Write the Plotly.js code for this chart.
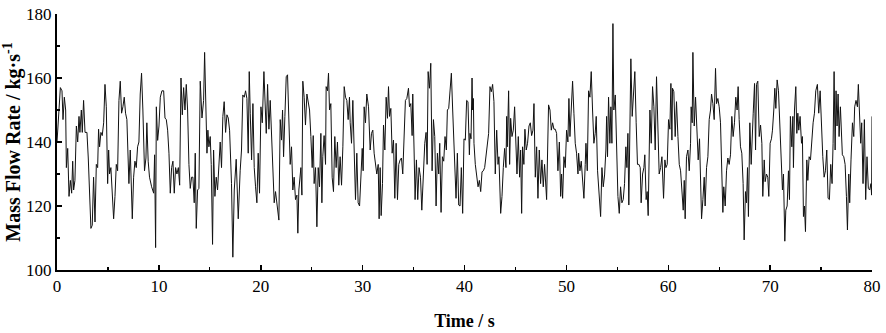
<!DOCTYPE html>
<html>
<head>
<meta charset="utf-8">
<script src="https://cdn.plot.ly/plotly-3.0.1.min.js"></script>
<style>html,body{margin:0;padding:0;background:#fff;}#chart{width:886px;height:333px;}</style>
</head>
<body>
<div id="chart"></div>
<script>
// Time (s)
const time = [
0.00,0.33,0.49,0.59,0.72,0.85,0.92,1.05,1.18,1.31,1.44,1.54,1.63,1.76,1.90,2.03,2.16,2.25,2.39,2.48,2.61,2.75,2.94,3.07,3.33,3.46,3.59,3.73,3.86,3.99,4.08,4.18,4.31,4.44,4.58,4.71,4.84,4.97,5.07,5.16,5.29,5.56,5.69,5.82,5.95,6.08,6.21,6.34,6.47,6.60,6.73,6.86,7.06,7.19,7.39,7.52,7.65,7.78,7.91,8.04,8.17,8.30,8.43,8.59,8.73,8.82,8.95,9.08,
9.29,9.49,9.58,9.68,9.75,9.88,10.01,10.14,10.30,10.47,10.60,10.73,10.86,10.99,11.12,11.25,11.38,11.51,11.64,11.77,11.91,12.04,12.17,12.30,12.43,12.56,12.69,12.82,12.95,13.08,13.21,13.34,13.47,13.57,13.67,13.80,13.93,14.06,14.23,14.39,14.49,14.62,14.72,14.81,14.91,15.04,15.14,15.27,15.37,15.50,15.63,15.76,15.89,16.02,16.15,16.28,16.41,16.55,16.68,16.81,16.94,17.07,17.13,17.26,17.40,17.59,17.79,17.98,18.11,18.24,18.38,18.51,18.64,18.77,18.87,
18.97,19.10,19.23,19.36,19.49,19.62,19.75,19.88,20.02,20.15,20.31,20.44,20.54,20.67,20.80,20.93,21.06,21.19,21.32,21.45,21.58,21.78,21.91,22.04,22.14,22.24,22.37,22.50,22.63,22.76,22.89,23.02,23.15,23.28,23.41,23.55,23.64,23.74,23.94,24.04,24.13,24.26,24.39,24.53,24.66,24.79,24.92,25.05,25.15,25.24,25.38,25.51,25.64,25.77,25.90,26.00,26.09,26.22,26.36,26.42,26.55,26.65,26.75,26.88,27.01,27.14,27.27,27.40,27.53,27.66,27.79,27.93,28.06,28.19,28.32,28.45,28.58,28.71,
28.78,28.91,29.04,29.17,29.30,29.43,29.56,29.70,29.83,29.96,30.05,30.15,30.28,30.41,30.58,30.74,30.87,31.00,31.13,31.26,31.39,31.53,31.62,31.72,31.82,31.95,32.05,32.18,32.31,32.44,32.54,32.64,32.77,32.90,33.03,33.16,33.29,33.42,33.55,33.68,33.81,33.94,34.07,34.20,34.34,34.50,34.60,34.73,34.86,34.92,35.05,35.15,35.28,35.41,35.54,35.68,35.81,35.94,36.10,36.23,36.33,36.43,36.56,36.69,36.82,36.95,37.08,37.21,37.34,37.47,37.57,37.70,37.83,37.96,38.09,38.22,38.32,38.45,
38.58,38.71,38.84,39.04,39.17,39.30,39.43,39.56,39.69,39.82,39.95,40.08,40.21,40.34,40.48,40.54,40.64,40.74,40.80,40.87,40.93,41.06,41.19,41.33,41.46,41.59,41.72,41.85,41.98,42.11,42.24,42.37,42.50,42.63,42.76,42.89,43.02,43.16,43.29,43.38,43.55,43.68,43.81,43.94,44.07,44.14,44.20,44.27,44.33,44.43,44.53,44.66,44.79,44.92,45.05,45.15,45.28,45.41,45.51,45.61,45.70,45.83,45.93,46.06,46.19,46.33,46.46,46.59,46.72,46.82,46.95,47.08,47.21,47.34,47.47,47.60,47.73,47.86,48.06,48.25,
48.39,48.52,48.65,48.78,48.91,49.04,49.17,49.31,49.44,49.53,49.63,49.76,49.89,50.02,50.15,50.25,50.35,50.48,50.61,50.74,50.87,51.00,51.14,51.20,51.33,51.46,51.59,51.72,51.85,51.92,52.05,52.18,52.31,52.44,52.57,52.70,52.83,52.93,53.06,53.19,53.36,53.49,53.62,53.75,53.88,53.95,54.04,54.14,54.27,54.37,54.47,54.57,54.66,54.80,54.93,55.06,55.19,55.32,55.45,55.58,55.71,55.84,55.94,56.04,56.13,56.23,56.33,56.46,56.59,56.72,56.85,56.98,57.12,57.25,57.34,57.48,57.61,57.70,57.83,57.93,58.03,58.13,
58.20,58.33,58.46,58.59,58.72,58.85,58.98,59.11,59.25,59.38,59.54,59.67,59.77,59.90,60.03,60.16,60.26,60.36,60.42,60.55,60.68,60.81,60.95,61.08,61.21,61.34,61.47,61.57,61.66,61.79,61.93,62.06,62.19,62.25,62.35,62.42,62.55,62.68,62.81,62.94,63.07,63.20,63.27,63.40,63.53,63.62,63.76,63.89,64.02,64.15,64.25,64.38,64.51,64.64,64.74,64.87,65.00,65.13,65.26,65.36,65.45,65.59,65.72,65.85,65.98,66.11,66.24,66.37,66.50,66.63,66.76,66.86,66.96,67.09,67.22,67.35,67.45,67.58,67.68,67.78,67.87,
68.01,68.14,68.21,68.34,68.47,68.57,68.66,68.79,68.93,69.06,69.19,69.28,69.42,69.51,69.64,69.77,69.87,70.00,70.13,70.23,70.36,70.46,70.56,70.69,70.82,70.95,71.08,71.21,71.31,71.44,71.54,71.67,71.80,71.90,71.99,72.13,72.23,72.29,72.39,72.52,72.62,72.72,72.81,72.94,73.08,73.17,73.27,73.37,73.47,73.60,73.70,73.83,73.96,74.09,74.22,74.35,74.48,74.64,74.77,74.91,75.04,75.17,75.30,75.43,75.56,75.69,75.82,75.95,76.08,76.18,76.28,76.38,76.47,76.57,76.67,76.77,76.90,77.00,77.09,77.23,77.36,77.49,77.59,77.72,77.81,77.94,78.08,78.21,78.30,78.43,78.57,78.66,78.79,78.89,78.99,79.12,79.25,79.38,79.51,79.64,79.77,79.90,79.96,80.00
];
// Mass flow rate (kg/s)
const massFlow = [
140,157,156,147,154,150,132,138,123,128,124,134,125,128,145,140,148,143,150,143,153,143,143,135,113,114,129,115,133,132,144,138.5,143,142,146,158,151,127,137.5,130,132,116,123,133,131,153,159,149,151,154,149,147,127,137.5,116,129,134,132,138.5,140,155,161.5,150,131,135,146,134,129,
126,124,136,107,151,140.5,145,154,156,156,147.5,147,143.7,136.5,124,132,134,124,132,130,132,126.5,160,148.5,157,150,158,150,133,125.5,129,129,121,136.5,113,125,125.5,159,147.5,153,168,144,136.5,143.7,138.5,141.7,133,108,137.5,123,129,125,133,140,132,148,152.6,143,148.5,147.5,143.7,132,127,104,125,134.6,116,131,137.5,154.7,154,156,153.6,136.5,162,
149,134.4,152,132,126,121,136.5,124,151,146,162,152,142.7,158,144,153,141.7,131,121,124.5,120,115.6,147,140.6,150,135.4,148,160.4,161,141.7,133,138.5,125,129,122,123.4,111.5,125,132,123.4,159,154,145.3,155,153,150,141.7,132,142,127,132,113.5,132,126,142.7,121,135.4,142,133,157.3,156,161.5,150,152,129,124.5,141.7,132,140,126.5,135.4,126.5,138.5,157.3,154,153,147,154,
146,139.6,153,137,122,136.5,121,120,131,138,131,151,146,155,151,137.5,142.7,143.7,136.5,133,130,133,116,132,117,127,145.3,137.5,154,147.4,157.3,148,150.5,136.5,140.6,122.4,139.6,122,133,134.4,135,130,142.7,153,153.6,156.8,151,152,142,155,137.5,122,134.4,122,132,129,118.7,127,139.6,143,133,162,156.8,164.6,131,147,141.7,120,136.5,130,139.6,118,135.4,134,141.7,137.5,150,150.5,
156.8,161.5,150,133,122.4,136.5,120.3,120,132,117.7,141,140.6,153,152.6,136,142.7,141,160,150,153.6,139.6,133,129.7,126,128,124.5,130.7,131,132,135.4,139.6,142.7,157.3,155.7,158,152.6,130,143.7,133,135.4,117.7,123,132,138,132,148,138.5,145,156,133,147.4,141.7,143.7,151,137.5,130,141.7,129,137.5,117.7,138.5,133,144,137.5,139.6,145,146,142,143.7,152,129,138.5,122.4,137.5,127,134.4,126,133,122,151.6,
150,143.7,146,144,144,142.7,131,140,123,130,122.4,135.4,132,143.7,140,153.6,141.7,149.5,159,149,139.6,136.5,130,136.5,131,134,126,122.4,133,139.6,131,156,154,162,150,139.6,142.7,148,131,125,116.7,132,126,129.7,137.5,148,135.4,154,139.6,151,139.6,177,150,154.7,141.7,123,117.7,126,121,122,127,138.5,132,142.7,120.3,148,166,148,154,162,146,133,133,132,121,130,132,136,122,124.5,117,136.5,
150,139.6,157.3,151,137.5,160.4,147,130,132,135.4,122.4,134.4,132,133,147,144,158.3,140.6,156.8,155.7,141.7,152.6,141.7,133,131,125,118.7,128,116,135.4,137.5,131,139.6,151,146,168,145,154,143.7,134.4,141,124,116,122,129,120,132,135.4,147,150,155,152,147,163,152,153.6,151,146,131,118,126,120,131,135,133,136,148,141.7,146,154,150,157.3,147,138.5,136.5,127,109.4,124.5,121,132,116.7,
146,133,141.7,149,158.3,137.5,158,159,141.7,145.3,139.6,123,134.4,127.6,130,129,123,139.6,141,143.7,150,156.8,150.5,159.4,156,147,138.5,125,130,109,118.7,120,131,122,148,138.5,148,132,150,157.3,142.7,149,143.7,148,139.6,141.7,116.7,120,112,134.4,128,135.4,134.4,141.7,146,149,156,158,149,156,141.7,135.4,129,131,137.5,122.4,122,133,127,139.6,162,137.5,156,145,155,141.7,151,145,136,135.4,133,123,112.5,130,121,134.4,146,141.7,151,153,151,158,148,139.6,146,127,147,122,135.4,125.5,125,127,123.4,148
];
const xTicks = [0,10,20,30,40,50,60,70,80];
const yTicks = [100,120,140,160,180];

const serif = '"Liberation Serif","Times New Roman",serif';
const trace = {
  x: time, y: massFlow, type: 'scatter', mode: 'lines',
  line: {color: '#111111', width: 1},
  hoverinfo: 'skip', showlegend: false
};
const layout = {
  width: 886, height: 333,
  margin: {l: 57, r: 14, t: 14, b: 63},
  paper_bgcolor: '#ffffff', plot_bgcolor: '#ffffff',
  font: {family: serif, color: '#000000', size: 17},
  xaxis: {
    range: [0, 80], tickvals: xTicks, ticktext: xTicks.map(String),
    showgrid: false, zeroline: false, showline: true, linecolor: '#000', linewidth: 2,
    ticks: 'inside', ticklen: 5, tickwidth: 1.5, tickcolor: '#000',
    minor: {dtick: 5, tick0: 0, ticks: 'inside', ticklen: 3, tickwidth: 1.2, tickcolor: '#000', showgrid: false},
    tickfont: {family: serif, size: 17, color: '#000'},
    title: {text: '<b>Time / s</b>', font: {family: serif, size: 18, color: '#000'}, standoff: 19}
  },
  yaxis: {
    range: [100, 180], tickvals: yTicks, ticktext: yTicks.map(String),
    showgrid: false, zeroline: false, showline: true, linecolor: '#000', linewidth: 2,
    ticks: 'inside', ticklen: 5, tickwidth: 1.5, tickcolor: '#000',
    minor: {dtick: 10, tick0: 100, ticks: 'inside', ticklen: 3, tickwidth: 1.2, tickcolor: '#000', showgrid: false},
    tickfont: {family: serif, size: 17, color: '#000'},
    title: {text: '<b>Mass Flow Rate / kg·s<sup>-1</sup></b>', font: {family: serif, size: 20, color: '#000'}, standoff: 3}
  }
};
Plotly.newPlot('chart', [trace], layout, {staticPlot: true, displayModeBar: false});
</script>
</body>
</html>
